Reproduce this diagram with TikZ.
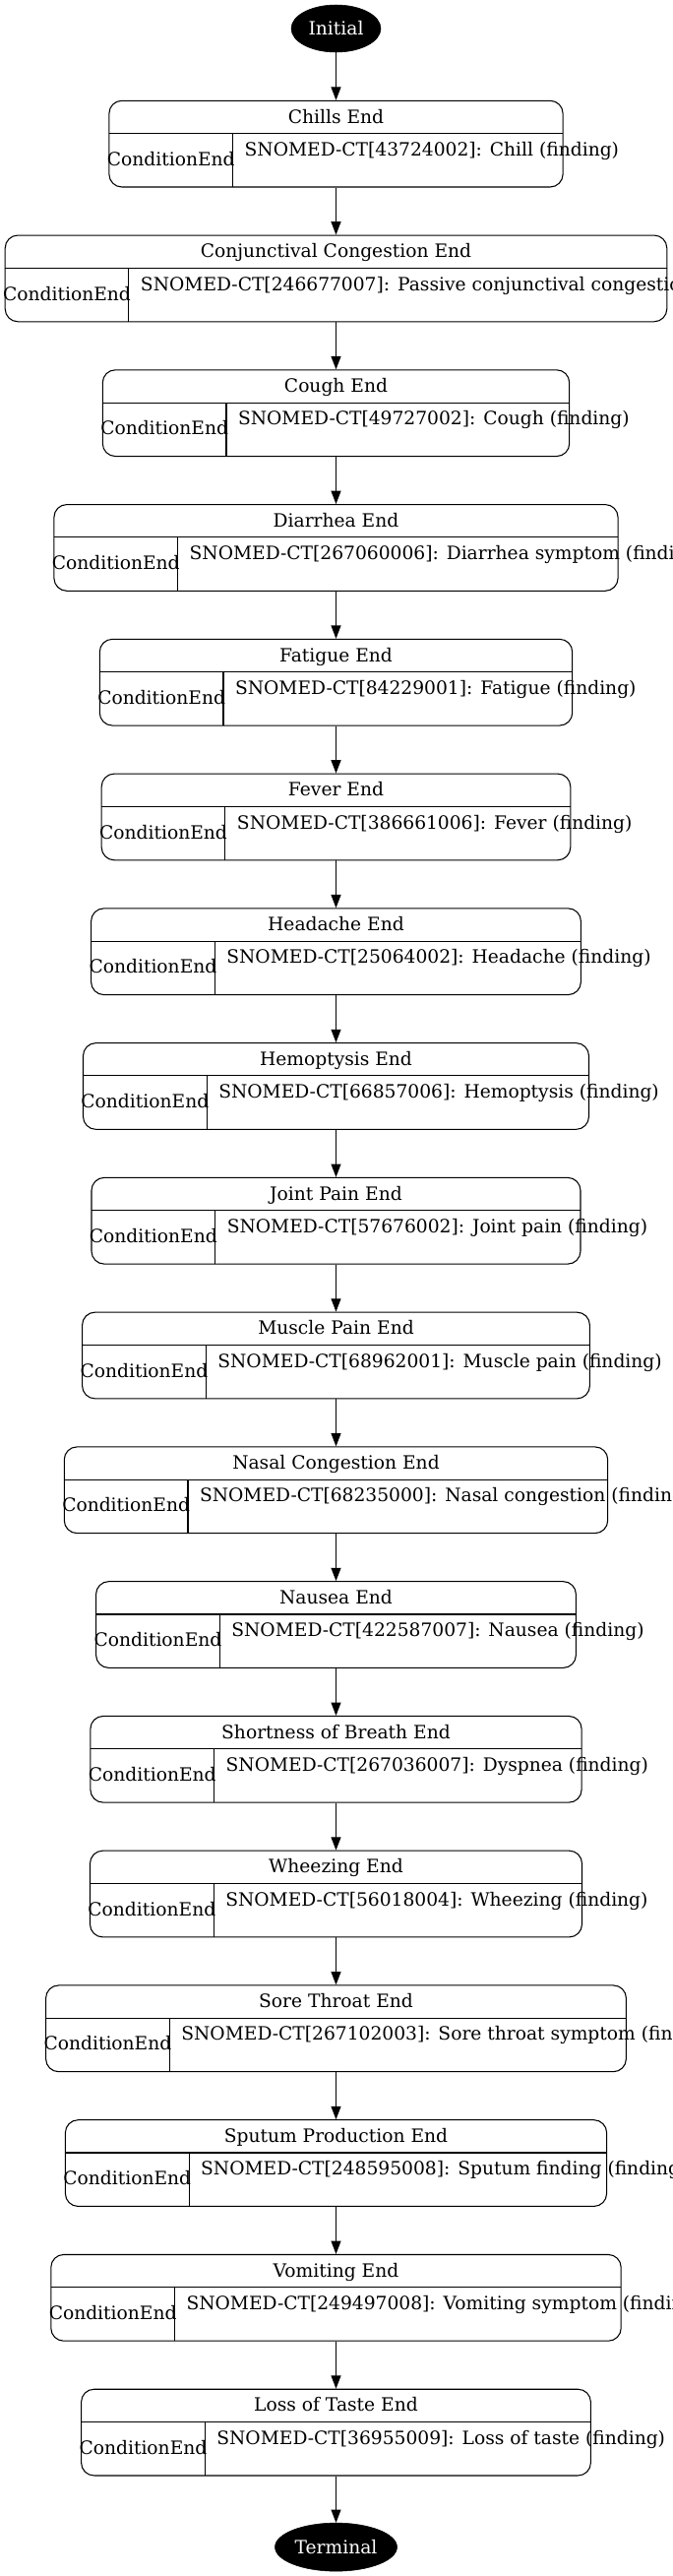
\documentclass[tikz,border=0pt]{standalone}
\usepackage{fontspec}
\setmainfont{DejaVu Serif}
\usetikzlibrary{shapes.geometric,arrows.meta}
\tikzset{
  stnode/.style={draw, line width=0.8pt, rounded corners=9.75pt, inner sep=0pt, minimum height=65.8pt},
  txt/.style={inner sep=0pt, font=\fontsize{14}{17}\selectfont},
  term/.style={ellipse, fill=black, draw=black, text=white, inner sep=0pt, font=\fontsize{14}{17}\selectfont},
  arr/.style={line width=0.8pt, -{Triangle[length=10pt, width=7.5pt]}},
  rule/.style={line width=0.8pt}
}
\newcommand\stbox[5]{%
  \pgfmathsetmacro\T{102.3+136.76*#2}%
  \pgfmathsetmacro\W{2*#3*0.75}%
  \pgfmathsetmacro\L{341.5-#3}%
  \pgfmathsetmacro\R{341.5+#3}%
  \pgfmathsetmacro\D{\L+125.7}%
  \node[stnode, minimum width=\W pt] (#1) at (341.5,\T+43.85) {};
  \draw[rule] (\L,\T+33.3) -- (\R,\T+33.3);
  \draw[rule] (\D,\T+33.3) -- (\D,\T+87.7);
  \node[txt, anchor=base] (#1-title) at (341.5,\T+22.7) {#4};
  \node[txt, anchor=base] (#1-type) at ({(\L+\D)/2},\T+66) {ConditionEnd};
  \node[txt, anchor=base west] (#1-code) at (\D+11.8,\T+56) {#5};
}
\begin{document}
\begin{tikzpicture}[x=0.75pt, y=-0.75pt]
\useasboundingbox (0,0) rectangle (683,2617);
\node[term, minimum width=68.25pt, minimum height=36pt] (init) at (341.5,29) {Initial};
\stbox{chills}{0}{230.6}{Chills End}{SNOMED-CT[43724002]: Chill (finding)}
\stbox{conj}{1}{336.3}{Conjunctival Congestion End}{SNOMED-CT[246677007]: Passive conjunctival congestion (finding)}
\stbox{cough}{2}{237.2}{Cough End}{SNOMED-CT[49727002]: Cough (finding)}
\stbox{diarrhea}{3}{286.6}{Diarrhea End}{SNOMED-CT[267060006]: Diarrhea symptom (finding)}
\stbox{fatigue}{4}{240.2}{Fatigue End}{SNOMED-CT[84229001]: Fatigue (finding)}
\stbox{fever}{5}{238.3}{Fever End}{SNOMED-CT[386661006]: Fever (finding)}
\stbox{headache}{6}{248.9}{Headache End}{SNOMED-CT[25064002]: Headache (finding)}
\stbox{hemoptysis}{7}{257}{Hemoptysis End}{SNOMED-CT[66857006]: Hemoptysis (finding)}
\stbox{joint}{8}{248.5}{Joint Pain End}{SNOMED-CT[57676002]: Joint pain (finding)}
\stbox{muscle}{9}{257.9}{Muscle Pain End}{SNOMED-CT[68962001]: Muscle pain (finding)}
\stbox{nasal}{10}{276.2}{Nasal Congestion End}{SNOMED-CT[68235000]: Nasal congestion (finding)}
\stbox{nausea}{11}{243.9}{Nausea End}{SNOMED-CT[422587007]: Nausea (finding)}
\stbox{sob}{12}{249.6}{Shortness of Breath End}{SNOMED-CT[267036007]: Dyspnea (finding)}
\stbox{wheezing}{13}{250}{Wheezing End}{SNOMED-CT[56018004]: Wheezing (finding)}
\stbox{sore}{14}{294.9}{Sore Throat End}{SNOMED-CT[267102003]: Sore throat symptom (finding)}
\stbox{sputum}{15}{275.1}{Sputum Production End}{SNOMED-CT[248595008]: Sputum finding (finding)}
\stbox{vomiting}{16}{289.7}{Vomiting End}{SNOMED-CT[249497008]: Vomiting symptom (finding)}
\stbox{loss}{17}{258.9}{Loss of Taste End}{SNOMED-CT[36955009]: Loss of taste (finding)}
\node[term, minimum width=93pt, minimum height=36.75pt] (terminal) at (341.5,2587.6) {Terminal};
\foreach \a/\b in {init/chills, chills/conj, conj/cough, cough/diarrhea, diarrhea/fatigue, fatigue/fever, fever/headache, headache/hemoptysis, hemoptysis/joint, joint/muscle, muscle/nasal, nasal/nausea, nausea/sob, sob/wheezing, wheezing/sore, sore/sputum, sputum/vomiting, vomiting/loss, loss/terminal}
  \draw[arr] (\a) -- (\b);
\end{tikzpicture}
\end{document}
